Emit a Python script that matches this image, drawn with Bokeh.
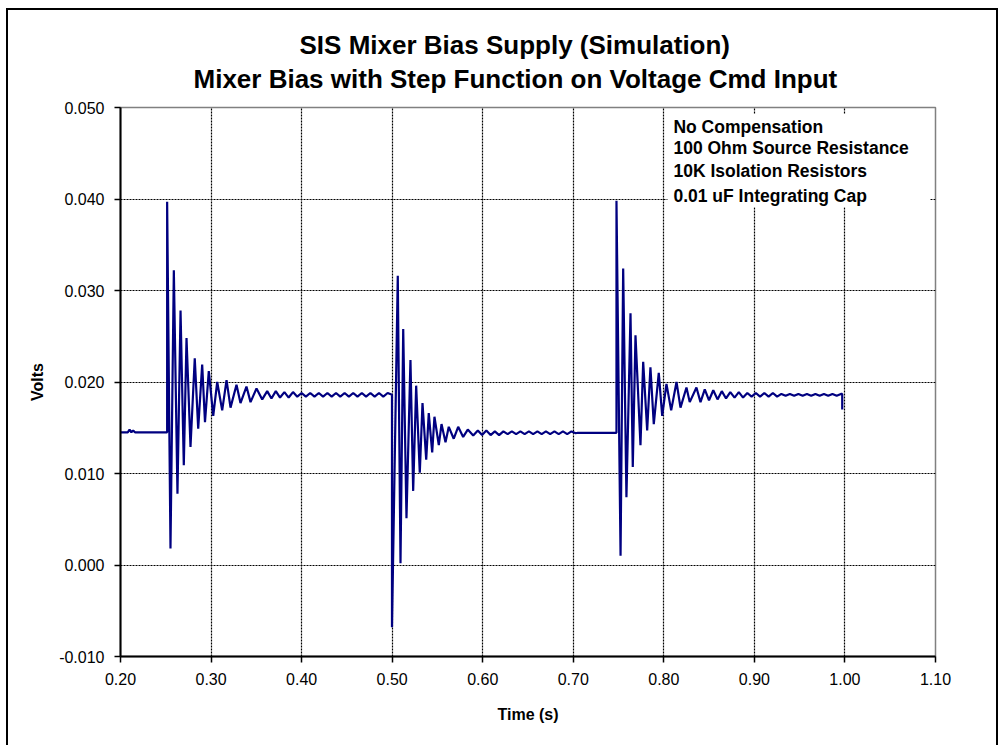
from bokeh.plotting import figure
from bokeh.models import (ColumnDataSource, Range1d, FixedTicker, NumeralTickFormatter,
                          Label, BoxAnnotation, Title, InlineStyleSheet)
from bokeh.embed import file_html
from bokeh.resources import INLINE

# ---- data (time in s, bias in V) ----
# initial level before first step
seg1_t = [0.2000, 0.2080, 0.2100, 0.2120, 0.2140, 0.2160, 0.2515]
seg1_v = [0.0145, 0.0145, 0.0148, 0.0145, 0.0147, 0.0145, 0.0145]

# step up at 0.25 s and ringing
burst1_t = [0.2515, 0.2552, 0.2589, 0.2629, 0.2663, 0.2699, 0.2729, 0.2773, 0.2820,
            0.2858, 0.2902, 0.2933, 0.2975, 0.3024, 0.3068, 0.3123, 0.3171, 0.3215,
            0.3281, 0.3325, 0.3391, 0.3436, 0.3502, 0.3565, 0.3620]
burst1_v = [0.0397, 0.0018, 0.0322, 0.0078, 0.0278, 0.0109, 0.0248, 0.0129, 0.0226,
            0.0149, 0.0219, 0.0156, 0.0212, 0.0163, 0.0200, 0.0169, 0.0202, 0.0172,
            0.0197, 0.0177, 0.0195, 0.0178, 0.0193, 0.0181, 0.0190]

tail1_t = [0.3667, 0.3715, 0.3762, 0.3810, 0.3857, 0.3905, 0.3952, 0.4000, 0.4047,
           0.4095, 0.4142, 0.4190, 0.4237, 0.4285, 0.4332, 0.4380, 0.4427, 0.4475,
           0.4522, 0.4570, 0.4617, 0.4665, 0.4712, 0.4760, 0.4807, 0.4855, 0.4902,
           0.4950, 0.4998]
tail1_v = [0.0182, 0.0190, 0.0183, 0.0189, 0.0183, 0.0189, 0.0184, 0.0188, 0.0184,
           0.0188, 0.0184, 0.0188, 0.0184, 0.0188, 0.0184, 0.0188, 0.0184, 0.0188,
           0.0184, 0.0188, 0.0184, 0.0188, 0.0184, 0.0188, 0.0184, 0.0188, 0.0184,
           0.0188, 0.0186]

# step down at 0.50 s and ringing
burst2_t = [0.4998, 0.5062, 0.5092, 0.5122, 0.5158, 0.5202, 0.5232, 0.5265, 0.5305,
            0.5335, 0.5376, 0.5404, 0.5442, 0.5467, 0.5515, 0.5545, 0.5589, 0.5625,
            0.5680, 0.5729, 0.5784, 0.5835, 0.5895, 0.5946]
burst2_v = [-0.0068, 0.0316, 0.0002, 0.0258, 0.0051, 0.0224, 0.0081, 0.0196, 0.0101,
            0.0177, 0.0115, 0.0166, 0.0123, 0.0162, 0.0131, 0.0154, 0.0134, 0.0151,
            0.0138, 0.0151, 0.0140, 0.0148, 0.01415, 0.0147]

tail2_t = [0.5993, 0.6040, 0.6087, 0.6134, 0.6181, 0.6228, 0.6275, 0.6322, 0.6369,
           0.6416, 0.6463, 0.6510, 0.6557, 0.6604, 0.6651, 0.6698, 0.6745, 0.6792,
           0.6839, 0.6886, 0.6933, 0.6980, 0.7027, 0.7050, 0.7477]
tail2_v = [0.0142, 0.0147, 0.0142, 0.0146, 0.0142, 0.0146, 0.0143, 0.0146, 0.0143,
           0.0146, 0.0143, 0.0146, 0.0143, 0.0146, 0.0143, 0.0146, 0.0143, 0.0146,
           0.0143, 0.0146, 0.0143, 0.0146, 0.0144, 0.01445, 0.01445]

# step up at 0.75 s and ringing
burst3_t = [0.7477, 0.7522, 0.7551, 0.7587, 0.7632, 0.7657, 0.7687, 0.7742, 0.7772,
            0.7816, 0.7852, 0.7889, 0.7944, 0.7982, 0.8029, 0.8081, 0.8140, 0.8184,
            0.8250, 0.8286, 0.8360, 0.8405]
burst3_v = [0.0398, 0.0010, 0.0324, 0.0074, 0.0275, 0.0107, 0.0251, 0.0131, 0.0222,
            0.0147, 0.0216, 0.0154, 0.0210, 0.0163, 0.0198, 0.0169, 0.0200, 0.0172,
            0.0194, 0.0178, 0.0194, 0.0178]

tail3_t = [0.8452, 0.8499, 0.8546, 0.8593, 0.8640, 0.8687, 0.8734, 0.8781, 0.8828,
           0.8875, 0.8922, 0.8969, 0.9016, 0.9063, 0.9110, 0.9157, 0.9204, 0.9251,
           0.9298, 0.9345, 0.9392, 0.9439, 0.9486, 0.9533, 0.9580, 0.9627, 0.9674,
           0.9721, 0.9768, 0.9815, 0.9862, 0.9909, 0.9956, 0.9970, 0.9970]
tail3_v = [0.0192, 0.0180, 0.0191, 0.0181, 0.0190, 0.0182, 0.0189, 0.0183, 0.0189,
           0.0183, 0.0188, 0.0184, 0.0188, 0.0184, 0.0188, 0.0184, 0.0188, 0.0184,
           0.0187, 0.0185, 0.0187, 0.0185, 0.0187, 0.0185, 0.0187, 0.0185, 0.0187,
           0.0185, 0.0187, 0.0185, 0.0187, 0.0185, 0.0187, 0.0187, 0.0170]

x_ticks = [0.2, 0.3, 0.4, 0.5, 0.6, 0.7, 0.8, 0.9, 1.0, 1.1]
y_ticks = [-0.01, 0.0, 0.01, 0.02, 0.03, 0.04, 0.05]

title_lines = ["SIS Mixer Bias Supply (Simulation)",
               "Mixer Bias with Step Function on Voltage Cmd Input"]
note_lines = ["No Compensation", "100 Ohm Source Resistance",
              "10K Isolation Resistors", "0.01 uF Integrating Cap"]

t_all = seg1_t + burst1_t + tail1_t + burst2_t + tail2_t + burst3_t + tail3_t
v_all = seg1_v + burst1_v + tail1_v + burst2_v + tail2_v + burst3_v + tail3_v

FONT = "Liberation Sans"

p = figure(width=1000, height=745, output_backend="svg", toolbar_location=None,
           x_range=Range1d(0.2, 1.1), y_range=Range1d(-0.01, 0.05),
           min_border_left=120, min_border_right=65, min_border_top=107,
           min_border_bottom=89)
p.background_fill_color = "white"
p.border_fill_color = "white"
p.outline_line_color = "#808080"
p.outline_line_width = 1.5

# outer chart border (drawn by CSS on the plot element, over the canvas)
p.stylesheets = [InlineStyleSheet(css=(
    ":host { position: relative; }"
    ":host::after { content: ''; position: absolute; left: 6px; top: 8px; right: 2px;"
    " bottom: -12px; border: 2px solid black; pointer-events: none; z-index: 10; }"))]

src = ColumnDataSource(dict(t=t_all, v=v_all))
p.line("t", "v", source=src, line_color="#000080", line_width=2.2)

# axes
p.xaxis.ticker = FixedTicker(ticks=x_ticks)
p.yaxis.ticker = FixedTicker(ticks=y_ticks)
p.xaxis.formatter = NumeralTickFormatter(format="0.00")
p.yaxis.formatter = NumeralTickFormatter(format="0.000")
for ax in (p.xaxis[0], p.yaxis[0]):
    ax.axis_line_color = "black"
    ax.axis_line_width = 2
    ax.major_tick_line_color = "black"
    ax.major_tick_line_width = 1.5
    ax.major_tick_in = 0
    ax.major_tick_out = 6
    ax.minor_tick_line_color = None
    ax.major_label_text_font = FONT
    ax.major_label_text_font_size = "16px"
    ax.major_label_text_color = "black"
    ax.axis_label_text_font = FONT
    ax.axis_label_text_font_style = "bold"
    ax.axis_label_text_font_size = "16px"
    ax.axis_label_text_color = "black"
p.xaxis.axis_label = "Time (s)"
p.yaxis.axis_label = "Volts"
p.xaxis.major_label_standoff = 10
p.xaxis.axis_label_standoff = 18
p.yaxis.major_label_standoff = 10
p.yaxis.axis_label_standoff = 10

# grid
p.xgrid.ticker = FixedTicker(ticks=x_ticks[1:-1])
p.ygrid.ticker = FixedTicker(ticks=y_ticks[1:-1])
for g in (p.xgrid[0], p.ygrid[0]):
    g.grid_line_color = "black"
    g.grid_line_width = 1.2
    g.grid_line_dash = "2 1"

# white box behind the note text
p.add_layout(BoxAnnotation(left=0.804, right=1.094, top=0.0493, bottom=0.0391,
                           fill_color="white", fill_alpha=1.0, line_alpha=0.0,
                           level="underlay"))

# note text
note_y = [0.04792, 0.04552, 0.04301, 0.04038]
for txt, yv in zip(note_lines, note_y):
    p.add_layout(Label(x=0.8106, y=yv, text=txt, text_font=FONT,
                       text_font_style="bold", text_font_size="17.5px",
                       text_align="left", text_baseline="middle", text_color="black"))

# title: two stacked titles (second line nearest the plot)
t2 = Title(text=title_lines[1], align="left", offset=73, text_font=FONT,
           text_font_style="bold", text_font_size="26px", text_color="black",
           standoff=27)
t1 = Title(text=title_lines[0], align="left", offset=179, text_font=FONT,
           text_font_style="bold", text_font_size="26px", text_color="black",
           standoff=-23)
p.add_layout(t2, "above")
p.add_layout(t1, "above")

open("out.html", "w").write(file_html(p, INLINE))
